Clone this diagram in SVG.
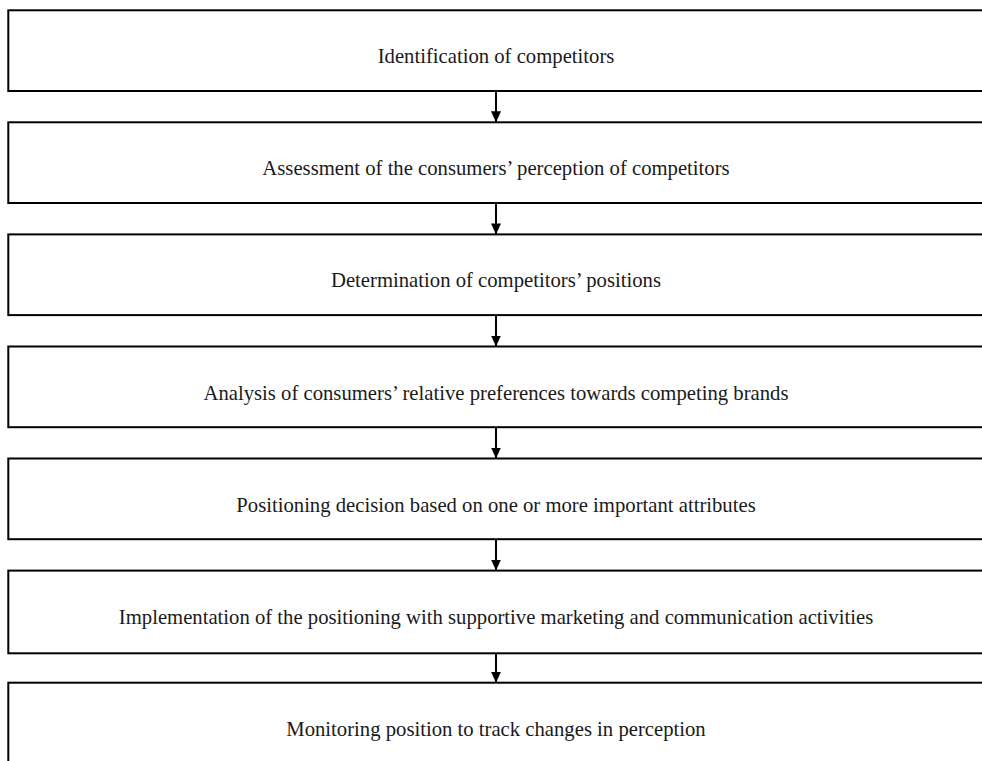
<svg xmlns="http://www.w3.org/2000/svg" width="982" height="761" viewBox="0 0 982 761">
  <defs>
    <style>
      .box { fill: #ffffff; stroke: #000000; stroke-width: 2; }
      .label { font-family: "Liberation Serif", "Times New Roman", serif; font-size: 20.7px; fill: #1a1a1a; text-anchor: middle; }
      .link { stroke: #000000; stroke-width: 2; fill: none; }
    </style>
    <marker id="head" markerWidth="11" markerHeight="10" refX="11" refY="5" orient="auto" markerUnits="userSpaceOnUse">
      <polygon points="0,0 11,5 0,10" fill="#000000"/>
    </marker>
  </defs>
  <rect width="982" height="761" fill="#ffffff"/>

  <g id="step1">
    <rect class="box" x="8.3" y="10.3" width="976" height="80.7"/>
    <text class="label" x="496" y="63.3">Identification of competitors</text>
  </g>
  <g id="step2">
    <rect class="box" x="8.3" y="122.3" width="976" height="80.7"/>
    <text class="label" x="496" y="175.3">Assessment of the consumers’ perception of competitors</text>
  </g>
  <g id="step3">
    <rect class="box" x="8.3" y="234.4" width="976" height="80.7"/>
    <text class="label" x="496" y="287.4">Determination of competitors’ positions</text>
  </g>
  <g id="step4">
    <rect class="box" x="8.3" y="346.5" width="976" height="80.7"/>
    <text class="label" x="496" y="399.5">Analysis of consumers’ relative preferences towards competing brands</text>
  </g>
  <g id="step5">
    <rect class="box" x="8.3" y="458.5" width="976" height="80.7"/>
    <text class="label" x="496" y="511.5">Positioning decision based on one or more important attributes</text>
  </g>
  <g id="step6">
    <rect class="box" x="8.3" y="570.6" width="976" height="82.7"/>
    <text class="label" x="496" y="623.6">Implementation of the positioning with supportive marketing and communication activities</text>
  </g>
  <g id="step7">
    <rect class="box" x="8.3" y="682.7" width="976" height="100"/>
    <text class="label" x="496" y="735.7">Monitoring position to track changes in perception</text>
  </g>

  <g id="connectors">
    <line class="link" x1="496" y1="91" x2="496" y2="122.3" marker-end="url(#head)"/>
    <line class="link" x1="496" y1="203" x2="496" y2="234.4" marker-end="url(#head)"/>
    <line class="link" x1="496" y1="315.1" x2="496" y2="346.5" marker-end="url(#head)"/>
    <line class="link" x1="496" y1="427.2" x2="496" y2="458.5" marker-end="url(#head)"/>
    <line class="link" x1="496" y1="539.2" x2="496" y2="570.6" marker-end="url(#head)"/>
    <line class="link" x1="496" y1="653.3" x2="496" y2="682.7" marker-end="url(#head)"/>
  </g>
</svg>
